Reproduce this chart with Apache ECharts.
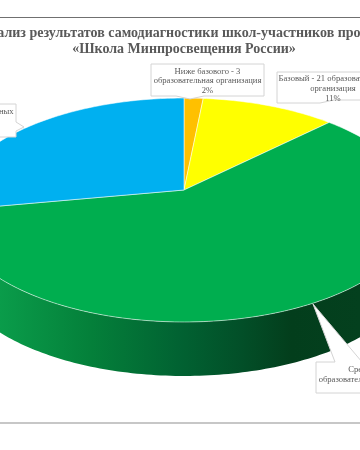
<!DOCTYPE html>
<html>
<head>
<meta charset="utf-8">
<style>html,body{margin:0;padding:0;background:#fff}#c{width:360px;height:450px}</style>
<script src="https://cdn.jsdelivr.net/npm/echarts@6/dist/echarts.min.js"></script>
</head>
<body>
<div id="c"></div>
<script>
var categories = ['Ниже базового', 'Базовый', 'Средний', 'Высокий'];
var values = [3, 21, 113, 53];
var colors = ['#ffc000', '#ffff00', '#00ae4f', '#00b0f0'];
var dataLabels = [
  'Ниже базового - 3\nобразовательная организация\n2%',
  'Базовый - 21 образовательная\nорганизация\n11%',
  'Средний - 113\nобразовательных организации\n59%',
  'Высокий - 53 образовательных\nорганизации\n28%'
];
var titleText = 'Анализ результатов самодиагностики школ-участников проекта\n«Школа Минпросвещения России»';

var CX = 184, CY = 190, A = 229, AY = 108.4, B = 0.1786, DEPTH = 54;
function project(deg) {
  var t = deg * Math.PI / 180, d = 1 + B * Math.cos(t);
  return [CX + A * Math.sin(t) / d, CY - AY * Math.cos(t) / d];
}
function arc(a0, a1) {
  var pts = [], n = Math.max(2, Math.ceil(Math.abs(a1 - a0)));
  for (var i = 0; i <= n; i++) pts.push(project(a0 + (a1 - a0) * i / n));
  return pts;
}
var total = values.reduce(function (s, v) { return s + v; }, 0);
var run = 0;
var sectors = values.map(function (v, i) {
  var s = run; run += v;
  return [s / total * 360, run / total * 360, i];
});
var wallGradient = new echarts.graphic.LinearGradient(0, 0, 360, 0, [
  { offset: 0, color: '#0a9c4a' },
  { offset: 0.25, color: '#04803a' },
  { offset: 0.5, color: '#016232' },
  { offset: 0.67, color: '#024f28' },
  { offset: 0.81, color: '#033e1c' },
  { offset: 1, color: '#04401e' }
], true);

function renderWall(params, api) {
  var a0 = Math.max(api.value(0), 90), a1 = Math.min(api.value(1), 270);
  if (a1 <= a0) return { type: 'group', children: [] };
  var top = arc(a0, a1);
  var bottom = top.map(function (p) { return [p[0], p[1] + DEPTH]; }).reverse();
  return {
    type: 'polygon', silent: true,
    shape: { points: top.concat(bottom) },
    style: { fill: api.value(2) === 2 ? wallGradient : colors[api.value(2)] }
  };
}
function renderTop(params, api) {
  var pts = [[CX, CY]].concat(arc(api.value(0), api.value(1)));
  return {
    type: 'polygon', silent: true,
    shape: { points: pts },
    style: { fill: colors[api.value(2)], stroke: 'rgba(255,255,255,0.75)', lineWidth: 0.7, lineJoin: 'round' }
  };
}
function callout(points) {
  return { type: 'polygon', silent: true, z: 10, shape: { points: points },
    style: { fill: '#fff', stroke: '#d4d4d4', lineWidth: 1 } };
}
function labelText(i, x, y) {
  return { type: 'text', silent: true, z: 11, x: x, y: y,
    style: { text: dataLabels[i], fill: '#595959', font: '8.6px "Liberation Serif"',
      align: 'center', verticalAlign: 'top', lineHeight: 9.8 } };
}
var chart = echarts.init(document.getElementById('c'));
chart.setOption({
  backgroundColor: '#fff',
  animation: false,
  title: {
    text: titleText, left: 179, top: 20, textAlign: 'center',
    textStyle: { fontFamily: 'Liberation Serif', fontWeight: 'bold', fontSize: 14, color: '#595959', lineHeight: 16 }
  },
  series: [
    { type: 'custom', coordinateSystem: 'none', renderItem: renderWall, data: sectors, z: 1, silent: true },
    { type: 'custom', coordinateSystem: 'none', renderItem: renderTop, data: sectors, z: 2, silent: true }
  ],
  graphic: [
    { type: 'line', silent: true, z: 9, shape: { x1: 0, y1: 17.5, x2: 360, y2: 17.5 }, style: { stroke: '#707070', lineWidth: 1 } },
    { type: 'line', silent: true, z: 9, shape: { x1: 0, y1: 423, x2: 360, y2: 423 }, style: { stroke: '#b4b4b4', lineWidth: 1.5 } },
    callout([[151, 64], [264, 64], [264, 96], [204, 96], [190, 99], [176, 96], [151, 96]]),
    labelText(0, 207.5, 66.5),
    callout([[277, 72], [380, 72], [380, 100], [334, 100], [320, 103], [277, 103]]),
    labelText(1, 333, 74),
    callout([[316, 362], [335, 362], [313, 304], [362, 362], [400, 362], [400, 393], [316, 393]]),
    labelText(2, 374, 365),
    callout([[-120, 104], [16, 104], [16, 122], [24, 127], [16, 131], [16, 137], [-120, 137]]),
    labelText(3, -43, 107)
  ]
});
</script>
</body>
</html>
